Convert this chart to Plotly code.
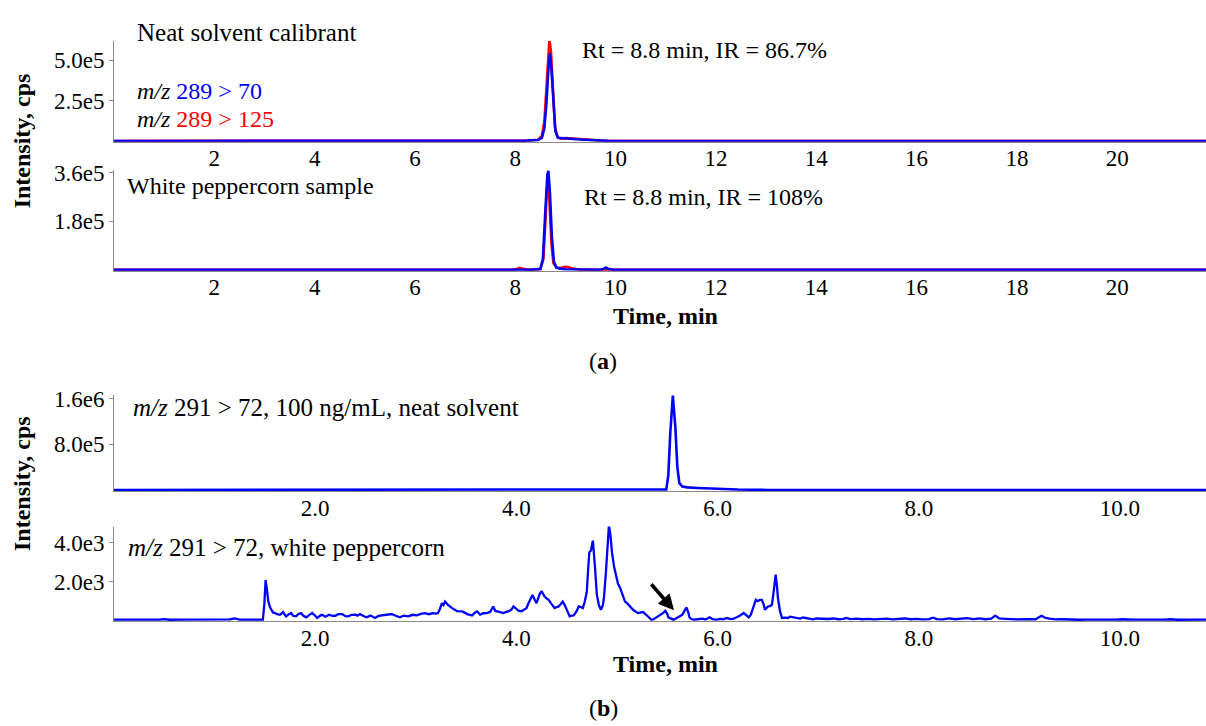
import plotly.graph_objects as go

W, H = 1206, 726
FONT = "Liberation Serif"
BLUE = "#0000ff"
RED = "#ff0000"
AXIS = "#8a8a8a"

# ---------------- (a) neat solvent calibrant ----------------
a1_red_t = [0, 7.0, 8.2, 8.45, 8.53, 8.58, 8.62, 8.65, 8.68, 8.71, 8.75, 8.79, 8.84, 8.9, 9.0, 9.2, 9.4, 9.6, 9.85, 21.77]
a1_red_i = [0, 0, 2e3, 8e3, 3.0e4, 1.2e5, 3.2e5, 5.3e5, 6.24e5, 5.6e5, 3.0e5, 9.0e4, 2.5e4, 1.4e4, 1.8e4, 1.3e4, 8e3, 4e3, 0, 0]
a1_blue_t = [0, 6.5, 7.5, 8.2, 8.45, 8.53, 8.58, 8.62, 8.66, 8.69, 8.72, 8.76, 8.80, 8.85, 8.95, 9.1, 9.3, 9.5, 9.7, 9.9, 21.77]
a1_blue_i = [0, 0, 1e3, 2e3, 6e3, 2.0e4, 8.0e4, 2.3e5, 4.4e5, 5.43e5, 4.5e5, 2.2e5, 6.0e4, 2.0e4, 1.6e4, 1.4e4, 9e3, 6e3, 3e3, 0, 0]

# ---------------- (a) white peppercorn sample ----------------
a2_red_t = [0, 7.95, 8.05, 8.09, 8.15, 8.3, 8.50, 8.56, 8.60, 8.63, 8.655, 8.68, 8.72, 8.76, 8.82, 8.9, 9.0, 9.05, 9.15, 9.3, 21.77]
a2_red_i = [0, 0, 4e3, 7e3, 3e3, 0, 2e3, 4e4, 1.8e5, 3.0e5, 3.27e5, 2.6e5, 1.0e5, 2.5e4, 8e3, 6e3, 1.1e4, 1e4, 4e3, 0, 0]
a2_blue_t = [0, 8.3, 8.50, 8.55, 8.60, 8.64, 8.66, 8.69, 8.73, 8.77, 8.82, 8.9, 9.0, 9.3, 9.7, 9.78, 9.81, 9.85, 9.95, 21.77]
a2_blue_i = [0, 0, 3e3, 4e4, 2.2e5, 3.55e5, 3.68e5, 2.9e5, 1.2e5, 3e4, 8e3, 4e3, 2e3, 0, 0, 5e3, 8e3, 4e3, 0, 0]

# ---------------- (b) neat solvent, m/z 291 > 72 ----------------
b1_t = [0, 5.45, 5.49, 5.51, 5.53, 5.555, 5.58, 5.60, 5.62, 5.65, 5.7, 5.8, 5.9, 6.0, 6.2, 6.5, 10.86]
b1_i = [0, 0, 1e4, 2.5e5, 1.0e6, 1.65e6, 1.1e6, 4.0e5, 1.2e5, 6e4, 4.5e4, 3.5e4, 2.5e4, 1.5e4, 8e3, 0, 0]

# ---------------- (b) white peppercorn, m/z 291 > 72 ----------------
b2_t = [0.00, 0.10, 0.20, 0.25, 0.35, 0.45, 0.50, 0.55, 0.65, 0.75, 0.85, 0.95, 1.00, 1.05, 1.15, 1.20, 1.25, 1.35,
        1.40, 1.45, 1.48, 1.495, 1.507, 1.52, 1.534, 1.55, 1.567, 1.58, 1.60, 1.62, 1.65, 1.67, 1.68, 1.70, 1.71,
        1.73, 1.76, 1.78, 1.81, 1.83, 1.86, 1.88, 1.91, 1.94, 1.97, 2.00, 2.02, 2.05, 2.07, 2.10, 2.14, 2.17, 2.20,
        2.23, 2.27, 2.30, 2.33, 2.36, 2.40, 2.42, 2.445, 2.48, 2.51, 2.55, 2.594, 2.63, 2.677, 2.72, 2.76, 2.80,
        2.843, 2.88, 2.925, 2.97, 3.01, 3.05, 3.09, 3.13, 3.17, 3.20, 3.22, 3.24, 3.26, 3.275, 3.29, 3.32, 3.36,
        3.41, 3.46, 3.49, 3.51, 3.54, 3.56, 3.59, 3.61, 3.64, 3.67, 3.71, 3.74, 3.77, 3.79, 3.81, 3.84, 3.87, 3.90,
        3.92, 3.95, 3.97, 4.00, 4.02, 4.05, 4.07, 4.10, 4.12, 4.14, 4.16, 4.18, 4.20, 4.22, 4.23, 4.25, 4.27, 4.28,
        4.30, 4.32, 4.35, 4.38, 4.40, 4.42, 4.44, 4.46, 4.48, 4.50, 4.53, 4.55, 4.57, 4.60, 4.62, 4.64, 4.66, 4.68,
        4.70, 4.715, 4.725, 4.74, 4.76, 4.78, 4.80, 4.82, 4.84, 4.86, 4.87, 4.89, 4.90, 4.92, 4.935, 4.95, 4.97,
        4.98, 5.00, 5.01, 5.03, 5.05, 5.07, 5.08, 5.10, 5.13, 5.15, 5.16, 5.19, 5.21, 5.24, 5.26, 5.29, 5.31, 5.34,
        5.36, 5.39, 5.42, 5.44, 5.46, 5.48, 5.50, 5.51, 5.54, 5.56, 5.59, 5.61, 5.63, 5.65, 5.67, 5.69, 5.71, 5.72,
        5.74, 5.76, 5.80, 5.85, 5.88, 5.92, 5.95, 5.99, 6.03, 6.06, 6.09, 6.13, 6.16, 6.19, 6.22, 6.26, 6.28, 6.31,
        6.33, 6.35, 6.38, 6.40, 6.42, 6.44, 6.46, 6.47, 6.49, 6.50, 6.52, 6.54, 6.56, 6.577, 6.59, 6.60, 6.62, 6.64,
        6.67, 6.70, 6.72, 6.75, 6.78, 6.82, 6.85, 6.88, 6.92, 6.95, 6.98, 7.02, 7.06, 7.10, 7.15, 7.20, 7.25, 7.28,
        7.32, 7.38, 7.44, 7.50, 7.56, 7.62, 7.68, 7.74, 7.80, 7.86, 7.92, 7.98, 8.04, 8.10, 8.14, 8.18, 8.24, 8.30,
        8.36, 8.42, 8.48, 8.54, 8.60, 8.66, 8.72, 8.76, 8.80, 8.86, 8.92, 8.98, 9.04, 9.10, 9.16, 9.22, 9.26, 9.30,
        9.36, 9.42, 9.48, 9.54, 9.60, 9.66, 9.72, 9.78, 9.84, 9.90, 9.96, 10.02, 10.08, 10.14, 10.20, 10.26, 10.32,
        10.38, 10.44, 10.50, 10.56, 10.62, 10.68, 10.74, 10.80, 10.86]
b2_i = [55, 50, 60, 45, 55, 50, 75, 45, 55, 50, 60, 45, 55, 50, 60, 110, 55, 50,
        65, 50, 55, 900, 2085, 1600, 985, 700, 560, 420, 390, 330, 300, 380, 440, 280, 220,
        300, 390, 250, 219, 330, 389, 260, 168, 280, 389, 250, 134, 260, 304, 200, 304, 240, 250,
        330, 338, 230, 219, 300, 304, 250, 338, 240, 168, 260, 134, 240, 270, 300, 338, 250,
        168, 260, 219, 300, 270, 350, 389, 330, 389, 360, 389, 600, 898, 800, 983, 813, 643,
        491, 474, 400, 338, 300, 270, 420, 474, 304, 380, 389, 450, 728, 500, 474, 420, 389, 450,
        474, 560, 728, 600, 508, 480, 559, 643, 900, 1153, 1322, 1100, 898, 1200, 1356, 1526, 1350, 1237,
        1150, 1068, 847, 643, 700, 728, 850, 983, 800, 559, 219, 260, 270, 500, 728, 700, 643, 983,
        1492, 2800, 3527, 3600, 4121, 2849, 1322, 800, 559, 800, 1153, 2500, 3527, 4918, 4400, 3527, 2800,
        2600, 2200, 1900, 1700, 1407, 1150, 983, 900, 728, 650, 559, 450, 389, 420, 440, 300, 219, 49,
        60, 168, 250, 304, 400, 508, 350, 168, 80, 49, 120, 168, 250, 304, 500, 677, 400, 168,
        80, 49, 70, 100, 60, 168, 80, 49, 90, 70, 134, 80, 100, 168, 250, 389, 300, 168,
        300, 643, 1068, 1000, 1068, 1068, 800, 559, 650, 728, 750, 813, 1600, 2374, 1800, 1153, 500, 134,
        150, 134, 200, 168, 130, 100, 160, 134, 90, 66, 110, 100, 70, 83, 110, 70, 90, 140,
        80, 100, 70, 90, 60, 80, 100, 60, 80, 110, 70, 90, 60, 80, 150, 80, 60, 110,
        70, 100, 130, 80, 110, 70, 100, 255, 110, 90, 70, 60, 80, 60, 70, 250, 140, 100,
        60, 70, 50, 60, 45, 55, 50, 60, 45, 55, 50, 70, 45, 55, 50, 60, 45,
        55, 50, 70, 45, 55, 50, 60, 50, 55]

# axis ticks
a_xticks = [2, 4, 6, 8, 10, 12, 14, 16, 18, 20]
b_xticks = [2, 4, 6, 8, 10]
b_xtick_text = ["2.0", "4.0", "6.0", "8.0", "10.0"]
a1_yticks = [2.5e5, 5.0e5]
a1_ytick_text = ["2.5e5", "5.0e5"]
a2_yticks = [1.8e5, 3.6e5]
a2_ytick_text = ["1.8e5", "3.6e5"]
b1_yticks = [8.0e5, 1.6e6]
b1_ytick_text = ["8.0e5", "1.6e6"]
b2_yticks = [2.0e3, 4.0e3]
b2_ytick_text = ["2.0e3", "4.0e3"]

fig = go.Figure()
LW = 2.6
fig.add_trace(go.Scatter(x=a1_red_t, y=a1_red_i, mode="lines", line=dict(color=RED, width=LW), xaxis="x", yaxis="y"))
fig.add_trace(go.Scatter(x=a1_blue_t, y=a1_blue_i, mode="lines", line=dict(color=BLUE, width=LW), xaxis="x", yaxis="y"))
fig.add_trace(go.Scatter(x=a2_red_t, y=a2_red_i, mode="lines", line=dict(color=RED, width=LW), xaxis="x2", yaxis="y2"))
fig.add_trace(go.Scatter(x=a2_blue_t, y=a2_blue_i, mode="lines", line=dict(color=BLUE, width=LW), xaxis="x2", yaxis="y2"))
fig.add_trace(go.Scatter(x=b1_t, y=b1_i, mode="lines", line=dict(color=BLUE, width=LW), xaxis="x3", yaxis="y3"))
fig.add_trace(go.Scatter(x=b2_t, y=b2_i, mode="lines", line=dict(color=BLUE, width=2.3), xaxis="x4", yaxis="y4"))

XL = 114 / W


def ydom(top_px, bot_px):
    return [1 - bot_px / H, 1 - top_px / H]


def xaxis(anchor, rng, tickvals, ticktext=None):
    d = dict(domain=[XL, 1], range=rng, anchor=anchor, showline=True, linecolor=AXIS, linewidth=1,
             showgrid=False, zeroline=False, ticks="", tickvals=tickvals, ticklabelstandoff=-4,
             tickfont=dict(family=FONT, size=23, color="black"), layer="below traces",
             fixedrange=True)
    if ticktext is not None:
        d["ticktext"] = ticktext
    return d


def yaxis(anchor, dom, rng, tickvals, ticktext):
    return dict(domain=dom, range=rng, anchor=anchor, showline=True, linecolor=AXIS, linewidth=1,
                showgrid=False, zeroline=False, ticks="outside", ticklen=4, tickcolor=AXIS, tickwidth=1,
                tickvals=tickvals, ticktext=ticktext,
                tickfont=dict(family=FONT, size=23, color="black"), layer="below traces", fixedrange=True)


def pt(px, py):
    return px / W, 1 - py / H


annotations = []


def text(px, py, s, size=24, xanchor="left"):
    x, y = pt(px, py)
    annotations.append(dict(x=x, y=y, xref="paper", yref="paper", text=s, showarrow=False,
                            xanchor=xanchor, yanchor="middle",
                            font=dict(family=FONT, size=size, color="black")))


text(135, 24, "Neat solvent calibrant", 25)
text(135, 83, "<i>m/z</i> <span style='color:#0000ff'>289 &gt; 70</span>", 24)
text(135, 111, "<i>m/z</i> <span style='color:#ff0000'>289 &gt; 125</span>", 24)
text(580, 42, "Rt = 8.8 min, IR = 86.7%", 24)
text(125, 179, "White peppercorn sample", 24)
text(582, 190, "Rt = 8.8 min, IR = 108%", 24)
text(131, 403, "<i>m/z</i> 291 &gt; 72, 100 ng/mL, neat solvent", 25)
text(126, 545, "<i>m/z</i> 291 &gt; 72, white peppercorn", 25)
text(665, 311, "<b>Time, min</b>", 24, "center")
text(665, 663, "<b>Time, min</b>", 24, "center")
text(603, 356, "(<b>a</b>)", 24, "center")
text(603, 708, "(<b>b</b>)", 24, "center")

for cy in (134, 481):
    x, y = pt(22, cy)
    annotations.append(dict(x=x, y=y, xref="paper", yref="paper", text="<b>Intensity, cps</b>", showarrow=False,
                            textangle=-90, xanchor="center", yanchor="middle",
                            font=dict(family=FONT, size=24, color="black")))

# arrow pointing to the analyte retention time in the peppercorn trace
annotations.append(dict(x=5.567, y=530, ax=5.328, ay=1950, xref="x4", yref="y4", axref="x4", ayref="y4",
                        text="", showarrow=True, arrowhead=2, arrowsize=0.9, arrowwidth=3.5,
                        arrowcolor="black"))

fig.update_layout(
    width=W, height=H,
    margin=dict(l=0, r=0, t=0, b=0),
    paper_bgcolor="white", plot_bgcolor="white",
    showlegend=False,
    xaxis=xaxis("y", [0, 21.77], a_xticks),
    yaxis=yaxis("x", ydom(32.3, 134.5), [-5e3, 6.2e5], a1_yticks, a1_ytick_text),
    xaxis2=xaxis("y2", [0, 21.77], a_xticks),
    yaxis2=yaxis("x2", ydom(163, 265), [-3.7e3, 3.71e5], a2_yticks, a2_ytick_text),
    xaxis3=xaxis("y3", [0, 10.855], b_xticks, b_xtick_text),
    yaxis3=yaxis("x3", ydom(390.5, 488), [-1.73e4, 1.667e6], b1_yticks, b1_ytick_text),
    xaxis4=xaxis("y4", [0, 10.855], b_xticks, b_xtick_text),
    yaxis4=yaxis("x4", ydom(524, 620), [-36, 4850], b2_yticks, b2_ytick_text),
    annotations=annotations,
)

fig.write_html("out.html", config={"displayModeBar": False})
